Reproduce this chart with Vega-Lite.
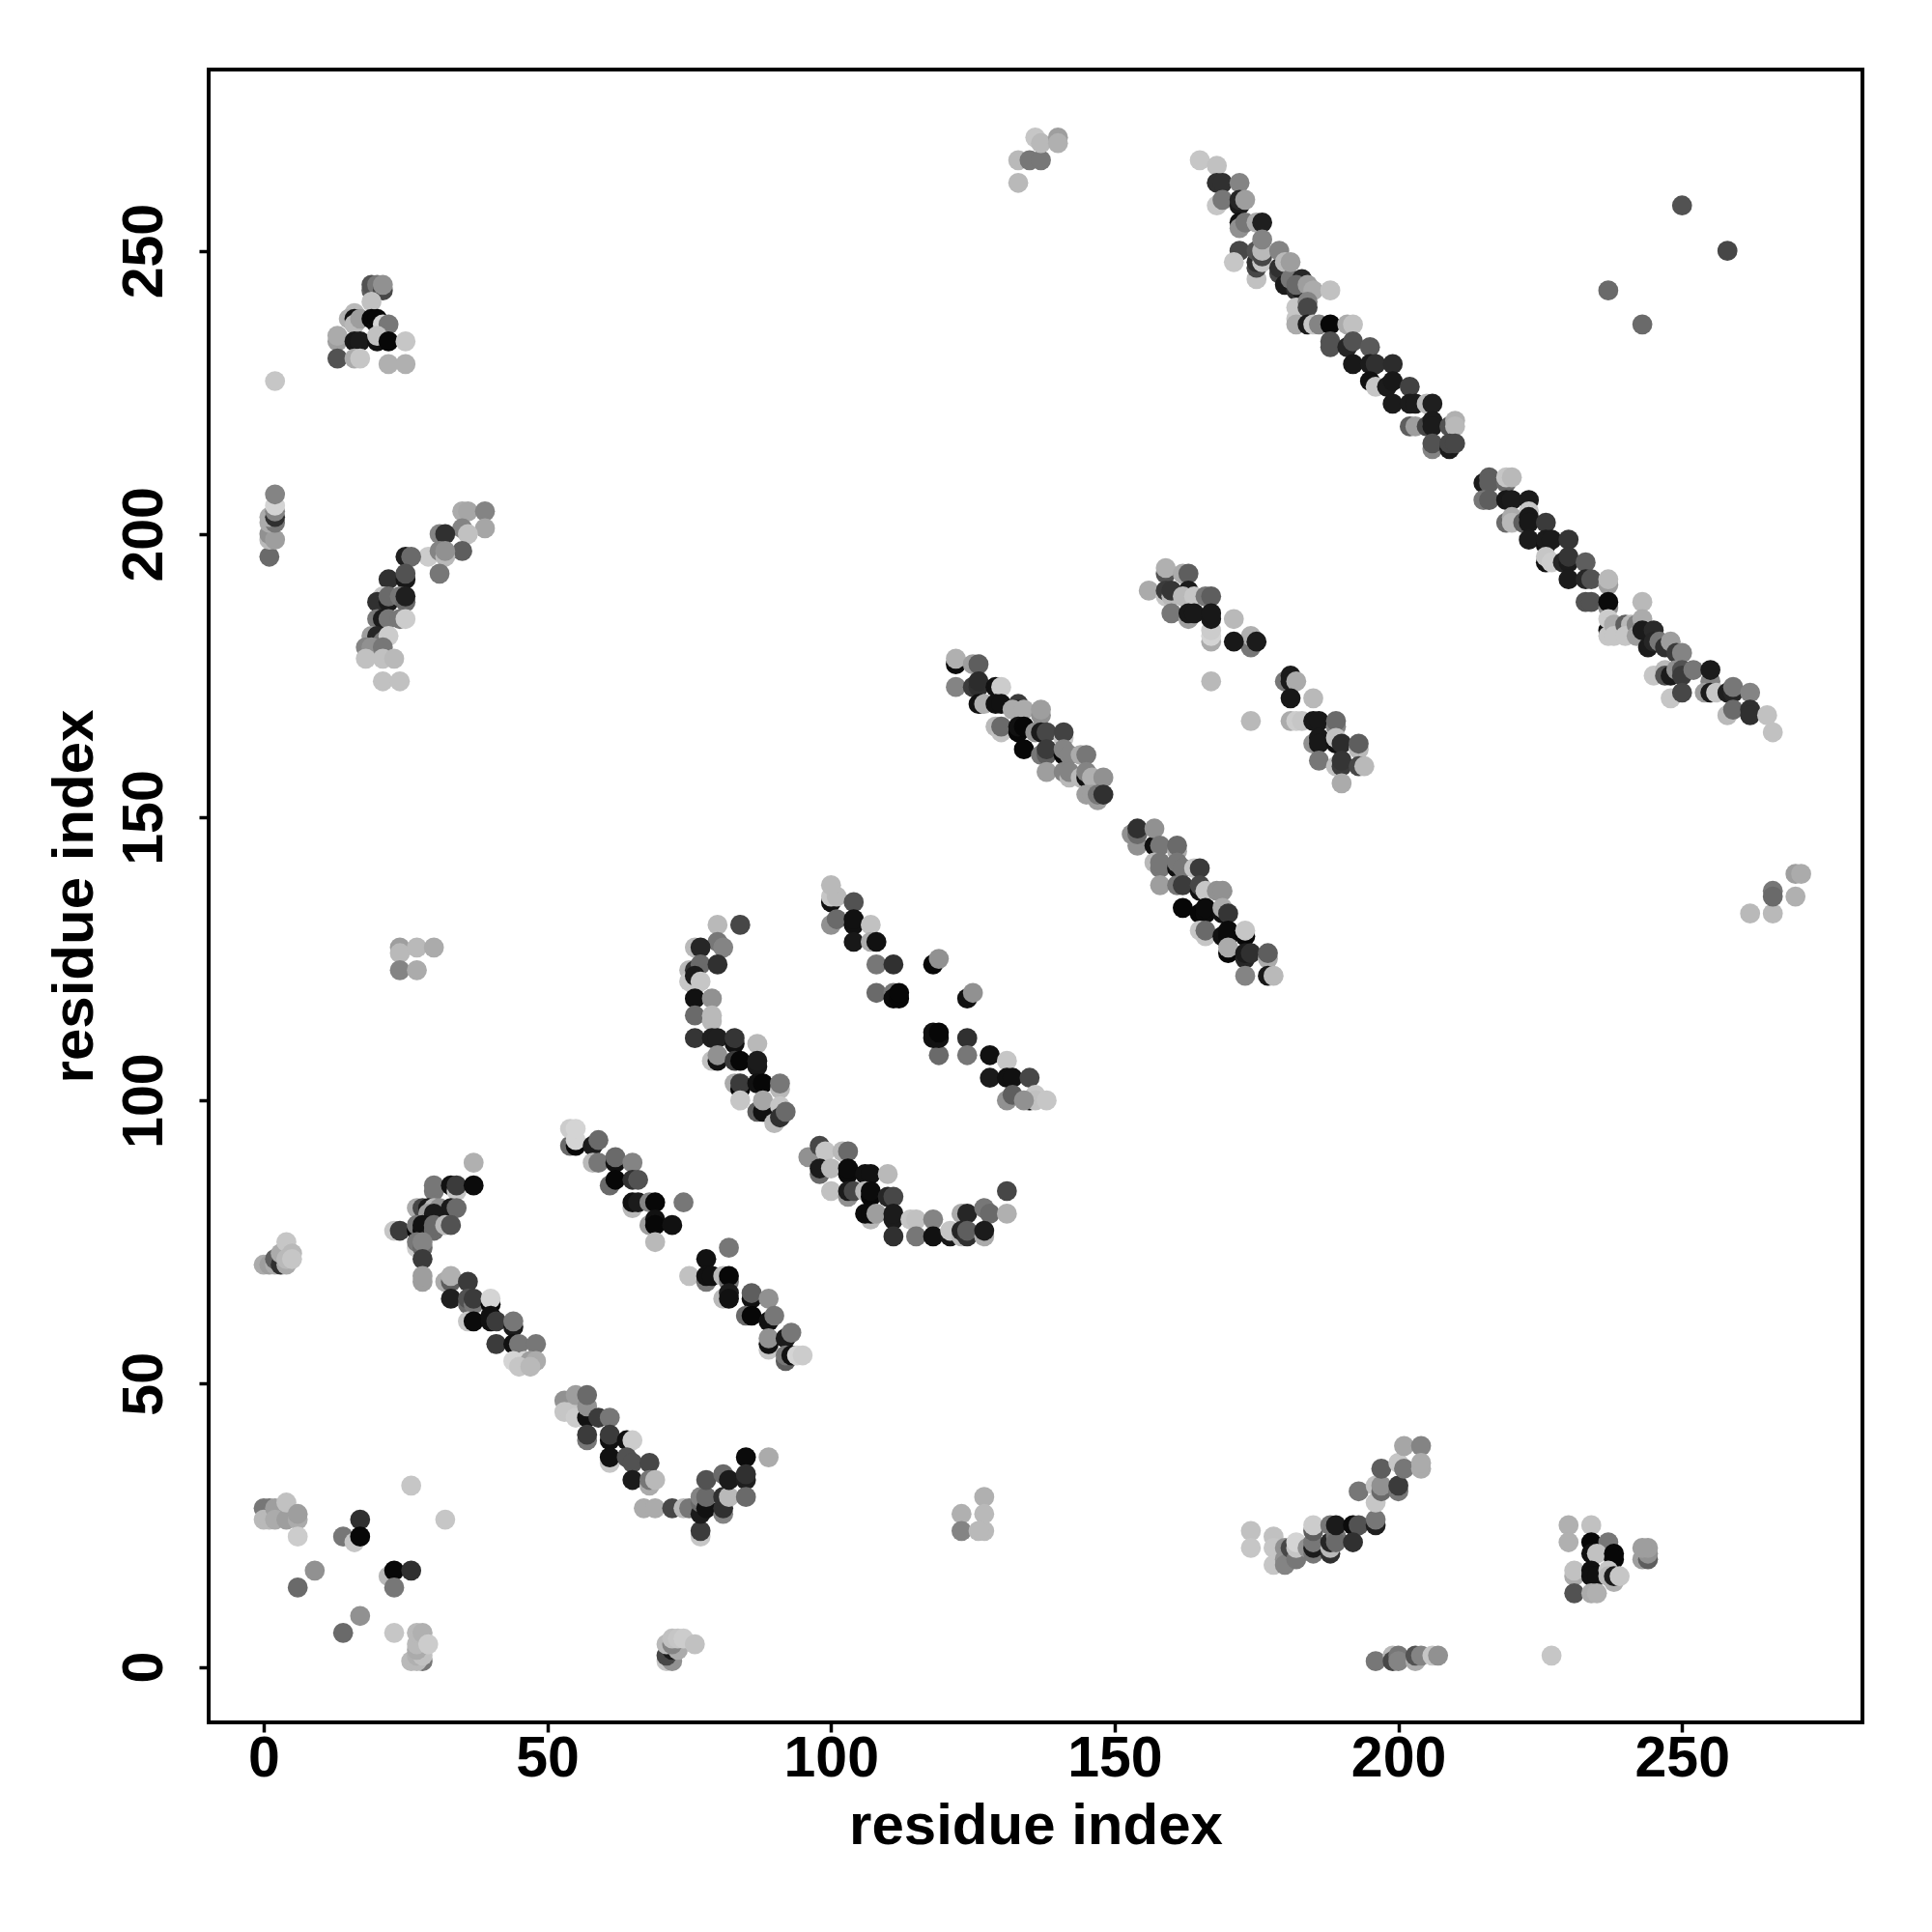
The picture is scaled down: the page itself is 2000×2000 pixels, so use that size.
{"$schema":"https://vega.github.io/schema/vega-lite/v6.json","width":1712,"height":1711,"autosize":{"type":"none"},"padding":{"left":216,"top":72,"right":72,"bottom":217},"background":"white","config":{"view":{"stroke":"#000000","strokeWidth":4,"fill":"white"},"font":"Liberation Sans"},"data":{"values":[
{"x":165,"y":266,"g":80},{"x":168,"y":265,"g":78},{"x":168,"y":262,"g":20},{"x":169,"y":262,"g":20},{"x":172,"y":262,"g":55},{"x":168,"y":258,"g":80},{"x":169,"y":259,"g":50},{"x":172,"y":258,"g":10},{"x":172,"y":259,"g":15},{"x":173,"y":259,"g":65},{"x":172,"y":255,"g":5},{"x":172,"y":254,"g":60},{"x":173,"y":255,"g":50},{"x":175,"y":255,"g":70},{"x":176,"y":255,"g":12},{"x":172,"y":250,"g":30},{"x":171,"y":248,"g":80},{"x":175,"y":245,"g":78},{"x":175,"y":247,"g":30},{"x":175,"y":248,"g":20},{"x":175,"y":250,"g":35},{"x":176,"y":248,"g":80},{"x":176,"y":249,"g":30},{"x":176,"y":250,"g":75},{"x":176,"y":252,"g":55},{"x":179,"y":246,"g":30},{"x":179,"y":247,"g":20},{"x":179,"y":250,"g":55},{"x":180,"y":244,"g":10},{"x":180,"y":248,"g":75},{"x":181,"y":245,"g":50},{"x":181,"y":248,"g":65},{"x":182,"y":243,"g":20},{"x":183,"y":243,"g":10},{"x":183,"y":245,"g":15},{"x":182,"y":244,"g":45},{"x":184,"y":244,"g":65},{"x":185,"y":243,"g":70},{"x":188,"y":243,"g":78},{"x":182,"y":240,"g":80},{"x":182,"y":238,"g":80},{"x":182,"y":237,"g":70},{"x":184,"y":241,"g":55},{"x":184,"y":240,"g":30},{"x":184,"y":237,"g":10},{"x":185,"y":237,"g":80},{"x":186,"y":237,"g":55},{"x":188,"y":237,"g":2},{"x":191,"y":237,"g":70},{"x":192,"y":237,"g":78},{"x":188,"y":234,"g":35},{"x":188,"y":233,"g":35},{"x":191,"y":233,"g":15},{"x":192,"y":234,"g":35},{"x":195,"y":233,"g":38},{"x":192,"y":230,"g":8},{"x":195,"y":230,"g":10},{"x":196,"y":230,"g":20},{"x":199,"y":230,"g":18},{"x":195,"y":227,"g":5},{"x":196,"y":226,"g":80},{"x":198,"y":226,"g":10},{"x":199,"y":227,"g":8},{"x":202,"y":226,"g":28},{"x":199,"y":223,"g":10},{"x":202,"y":223,"g":10},{"x":203,"y":223,"g":10},{"x":205,"y":223,"g":75},{"x":206,"y":223,"g":12},{"x":202,"y":219,"g":40},{"x":203,"y":219,"g":65},{"x":205,"y":219,"g":30},{"x":206,"y":220,"g":10},{"x":206,"y":219,"g":10},{"x":209,"y":219,"g":35},{"x":210,"y":220,"g":72},{"x":210,"y":219,"g":75},{"x":206,"y":215,"g":55},{"x":206,"y":216,"g":35},{"x":209,"y":215,"g":10},{"x":209,"y":216,"g":30},{"x":210,"y":216,"g":30},
{"x":215,"y":209,"g":10},{"x":216,"y":210,"g":40},{"x":216,"y":209,"g":40},{"x":219,"y":209,"g":45},{"x":219,"y":210,"g":80},{"x":220,"y":210,"g":75},{"x":215,"y":206,"g":50},{"x":216,"y":206,"g":40},{"x":219,"y":206,"g":8},{"x":220,"y":206,"g":10},{"x":223,"y":206,"g":10},{"x":223,"y":204,"g":80},{"x":219,"y":202,"g":45},{"x":220,"y":203,"g":70},{"x":220,"y":202,"g":75},{"x":222,"y":202,"g":40},{"x":223,"y":203,"g":8},{"x":223,"y":202,"g":8},{"x":226,"y":202,"g":25},{"x":223,"y":199,"g":10},{"x":226,"y":198,"g":5},{"x":226,"y":199,"g":10},{"x":227,"y":199,"g":10},{"x":230,"y":199,"g":22},{"x":226,"y":195,"g":5},{"x":226,"y":196,"g":80},{"x":227,"y":195,"g":82},{"x":229,"y":195,"g":15},{"x":230,"y":195,"g":10},{"x":230,"y":196,"g":22},{"x":233,"y":195,"g":40},{"x":230,"y":192,"g":10},{"x":233,"y":192,"g":15},{"x":234,"y":192,"g":35},{"x":237,"y":191,"g":65},{"x":237,"y":192,"g":75},{"x":233,"y":188,"g":35},{"x":234,"y":188,"g":35},{"x":237,"y":187,"g":60},{"x":237,"y":188,"g":3},{"x":237,"y":183,"g":5},{"x":237,"y":185,"g":82},{"x":237,"y":182,"g":80},{"x":238,"y":184,"g":70},{"x":238,"y":182,"g":80},{"x":240,"y":184,"g":40},{"x":241,"y":184,"g":75},{"x":240,"y":182,"g":80},{"x":243,"y":188,"g":75},{"x":242,"y":184,"g":55},{"x":243,"y":185,"g":70},{"x":242,"y":182,"g":65},{"x":243,"y":183,"g":10},{"x":245,"y":183,"g":17},{"x":244,"y":180,"g":10},{"x":245,"y":181,"g":15},{"x":246,"y":181,"g":50},{"x":247,"y":180,"g":20},{"x":248,"y":181,"g":65},{"x":249,"y":179,"g":25},{"x":250,"y":179,"g":55},{"x":245,"y":175,"g":80},{"x":247,"y":176,"g":75},{"x":247,"y":175,"g":35},{"x":248,"y":175,"g":10},{"x":249,"y":176,"g":60},{"x":250,"y":176,"g":35},{"x":250,"y":175,"g":25},{"x":252,"y":176,"g":50},{"x":255,"y":174,"g":55},{"x":255,"y":176,"g":10},{"x":248,"y":171,"g":80},{"x":250,"y":172,"g":30},{"x":254,"y":172,"g":65},{"x":255,"y":172,"g":10},{"x":256,"y":172,"g":80},{"x":258,"y":172,"g":12},{"x":259,"y":172,"g":15},{"x":259,"y":173,"g":50},{"x":262,"y":172,"g":55},{"x":258,"y":168,"g":75},{"x":259,"y":169,"g":45},{"x":262,"y":169,"g":20},{"x":262,"y":168,"g":20},{"x":265,"y":168,"g":78},{"x":266,"y":165,"g":78},
{"x":122,"y":177,"g":3},{"x":122,"y":178,"g":72},{"x":125,"y":177,"g":65},{"x":126,"y":177,"g":40},{"x":122,"y":173,"g":55},{"x":125,"y":173,"g":25},{"x":126,"y":173,"g":20},{"x":126,"y":174,"g":18},{"x":129,"y":173,"g":5},{"x":130,"y":173,"g":82},{"x":126,"y":170,"g":5},{"x":127,"y":170,"g":72},{"x":129,"y":170,"g":5},{"x":130,"y":170,"g":5},{"x":133,"y":170,"g":25},{"x":133,"y":169,"g":15},{"x":132,"y":169,"g":70},{"x":134,"y":169,"g":70},{"x":137,"y":168,"g":60},{"x":137,"y":169,"g":65},{"x":129,"y":166,"g":75},{"x":130,"y":165,"g":78},{"x":130,"y":166,"g":45},{"x":133,"y":165,"g":2},{"x":133,"y":166,"g":5},{"x":134,"y":166,"g":2},{"x":136,"y":165,"g":60},{"x":137,"y":165,"g":10},{"x":138,"y":165,"g":30},{"x":141,"y":164,"g":80},{"x":141,"y":165,"g":28},{"x":134,"y":162,"g":2},{"x":137,"y":161,"g":50},{"x":138,"y":161,"g":40},{"x":138,"y":162,"g":25},{"x":141,"y":161,"g":2},{"x":141,"y":162,"g":55},{"x":142,"y":161,"g":55},{"x":144,"y":161,"g":70},{"x":145,"y":161,"g":50},{"x":138,"y":158,"g":65},{"x":141,"y":158,"g":55},{"x":142,"y":157,"g":75},{"x":142,"y":158,"g":55},{"x":144,"y":157,"g":75},{"x":145,"y":157,"g":5},{"x":145,"y":158,"g":55},{"x":146,"y":157,"g":72},{"x":148,"y":157,"g":60},{"x":145,"y":154,"g":65},{"x":146,"y":154,"g":65},{"x":147,"y":153,"g":65},{"x":147,"y":154,"g":50},{"x":148,"y":154,"g":20},
{"x":153,"y":147,"g":60},{"x":154,"y":145,"g":60},{"x":154,"y":147,"g":45},{"x":154,"y":148,"g":20},{"x":157,"y":145,"g":5},{"x":157,"y":148,"g":60},{"x":158,"y":145,"g":50},{"x":161,"y":144,"g":70},{"x":161,"y":145,"g":45},{"x":157,"y":142,"g":75},{"x":158,"y":141,"g":50},{"x":158,"y":142,"g":50},{"x":161,"y":141,"g":5},{"x":161,"y":142,"g":50},{"x":162,"y":141,"g":50},{"x":164,"y":141,"g":80},{"x":165,"y":141,"g":25},{"x":158,"y":138,"g":65},{"x":161,"y":138,"g":50},{"x":162,"y":138,"g":25},{"x":165,"y":137,"g":5},{"x":165,"y":138,"g":30},{"x":166,"y":137,"g":80},{"x":168,"y":137,"g":60},{"x":169,"y":137,"g":60},{"x":162,"y":134,"g":2},{"x":165,"y":133,"g":2},{"x":166,"y":133,"g":3},{"x":166,"y":134,"g":3},{"x":169,"y":133,"g":5},{"x":169,"y":134,"g":70},{"x":170,"y":133,"g":22},{"x":165,"y":130,"g":80},{"x":166,"y":129,"g":80},{"x":166,"y":130,"g":45},{"x":169,"y":129,"g":5},{"x":170,"y":129,"g":3},{"x":170,"y":130,"g":3},{"x":173,"y":129,"g":2},{"x":173,"y":130,"g":80},{"x":170,"y":126,"g":2},{"x":170,"y":127,"g":70},{"x":173,"y":125,"g":15},{"x":173,"y":126,"g":10},{"x":174,"y":126,"g":20},{"x":177,"y":125,"g":70},{"x":177,"y":126,"g":40},{"x":173,"y":122,"g":55},{"x":177,"y":122,"g":8},{"x":178,"y":122,"g":75},
{"x":159,"y":193,"g":35},{"x":159,"y":194,"g":72},{"x":162,"y":193,"g":70},{"x":163,"y":193,"g":40},{"x":156,"y":190,"g":70},{"x":159,"y":189,"g":80},{"x":159,"y":190,"g":25},{"x":160,"y":189,"g":75},{"x":160,"y":190,"g":22},{"x":163,"y":190,"g":10},{"x":163,"y":189,"g":10},{"x":162,"y":189,"g":75},{"x":164,"y":189,"g":80},{"x":166,"y":189,"g":50},{"x":167,"y":189,"g":40},{"x":160,"y":186,"g":50},{"x":163,"y":185,"g":65},{"x":163,"y":186,"g":8},{"x":164,"y":186,"g":8},{"x":167,"y":181,"g":70},{"x":167,"y":182,"g":85},{"x":167,"y":183,"g":82},{"x":167,"y":185,"g":8},{"x":167,"y":186,"g":8},{"x":171,"y":185,"g":75},{"x":174,"y":180,"g":50},{"x":174,"y":182,"g":72},{"x":171,"y":181,"g":8},{"x":175,"y":181,"g":10},{"x":167,"y":174,"g":75},{"x":174,"y":167,"g":75},{"x":180,"y":174,"g":50},{"x":181,"y":175,"g":10},{"x":181,"y":174,"g":10},{"x":182,"y":174,"g":70},{"x":181,"y":171,"g":8},{"x":185,"y":171,"g":75},{"x":181,"y":167,"g":70},{"x":182,"y":167,"g":82},{"x":183,"y":167,"g":80},{"x":185,"y":167,"g":8},{"x":186,"y":167,"g":8},{"x":189,"y":166,"g":55},{"x":189,"y":167,"g":45},{"x":185,"y":163,"g":60},{"x":186,"y":164,"g":8},{"x":186,"y":163,"g":8},{"x":189,"y":163,"g":5},{"x":189,"y":164,"g":78},{"x":190,"y":163,"g":18},{"x":193,"y":162,"g":75},{"x":193,"y":163,"g":40},{"x":186,"y":160,"g":50},{"x":189,"y":159,"g":78},{"x":190,"y":159,"g":25},{"x":190,"y":160,"g":22},{"x":193,"y":159,"g":30},{"x":194,"y":159,"g":75},{"x":190,"y":156,"g":70},
{"x":80,"y":131,"g":75},{"x":84,"y":131,"g":30},{"x":80,"y":128,"g":50},{"x":81,"y":127,"g":55},{"x":76,"y":127,"g":75},{"x":77,"y":127,"g":15},{"x":75,"y":123,"g":75},{"x":76,"y":123,"g":20},{"x":77,"y":124,"g":45},{"x":80,"y":124,"g":20},{"x":75,"y":121,"g":80},{"x":76,"y":122,"g":10},{"x":77,"y":121,"g":80},{"x":76,"y":118,"g":5},{"x":79,"y":118,"g":60},{"x":76,"y":115,"g":45},{"x":79,"y":114,"g":75},{"x":79,"y":115,"g":75},{"x":76,"y":111,"g":22},{"x":79,"y":111,"g":12},{"x":80,"y":111,"g":12},{"x":83,"y":110,"g":5},{"x":83,"y":111,"g":22},{"x":87,"y":110,"g":75},{"x":79,"y":107,"g":78},{"x":80,"y":107,"g":5},{"x":80,"y":108,"g":60},{"x":83,"y":107,"g":25},{"x":84,"y":107,"g":2},{"x":87,"y":106,"g":8},{"x":87,"y":107,"g":10},{"x":83,"y":103,"g":70},{"x":84,"y":102,"g":2},{"x":84,"y":103,"g":25},{"x":87,"y":103,"g":5},{"x":88,"y":103,"g":2},{"x":91,"y":102,"g":75},{"x":91,"y":103,"g":50},{"x":84,"y":100,"g":80},{"x":87,"y":98,"g":40},{"x":88,"y":98,"g":5},{"x":88,"y":100,"g":68},{"x":91,"y":99,"g":80},{"x":90,"y":96,"g":75},{"x":91,"y":97,"g":20},{"x":92,"y":98,"g":45},
{"x":96,"y":90,"g":60},{"x":98,"y":92,"g":30},{"x":99,"y":91,"g":80},{"x":102,"y":91,"g":75},{"x":103,"y":91,"g":45},{"x":98,"y":87,"g":45},{"x":98,"y":88,"g":10},{"x":100,"y":88,"g":75},{"x":103,"y":87,"g":3},{"x":103,"y":88,"g":3},{"x":106,"y":87,"g":5},{"x":107,"y":87,"g":5},{"x":110,"y":87,"g":75},{"x":100,"y":84,"g":78},{"x":103,"y":83,"g":60},{"x":103,"y":84,"g":10},{"x":104,"y":84,"g":30},{"x":106,"y":84,"g":75},{"x":107,"y":83,"g":2},{"x":107,"y":84,"g":3},{"x":110,"y":83,"g":15},{"x":111,"y":83,"g":30},{"x":107,"y":79,"g":75},{"x":106,"y":80,"g":3},{"x":107,"y":80,"g":3},{"x":108,"y":80,"g":65},{"x":111,"y":79,"g":10},{"x":111,"y":80,"g":10},{"x":114,"y":79,"g":80},{"x":115,"y":79,"g":78},{"x":118,"y":79,"g":55},{"x":123,"y":80,"g":70},{"x":124,"y":80,"g":15},{"x":127,"y":81,"g":50},{"x":128,"y":80,"g":45},{"x":131,"y":80,"g":72},{"x":131,"y":84,"g":30},{"x":111,"y":76,"g":20},{"x":115,"y":76,"g":50},{"x":118,"y":76,"g":5},{"x":121,"y":76,"g":8},{"x":121,"y":77,"g":80},{"x":123,"y":76,"g":75},{"x":123,"y":77,"g":15},{"x":124,"y":76,"g":20},{"x":124,"y":77,"g":40},{"x":127,"y":76,"g":70},{"x":127,"y":77,"g":10},
{"x":100,"y":135,"g":5},{"x":100,"y":136,"g":80},{"x":101,"y":136,"g":75},{"x":100,"y":138,"g":75},{"x":104,"y":135,"g":35},{"x":100,"y":131,"g":60},{"x":101,"y":132,"g":45},{"x":104,"y":131,"g":5},{"x":104,"y":132,"g":5},{"x":107,"y":131,"g":78},{"x":104,"y":128,"g":8},{"x":107,"y":128,"g":70},{"x":108,"y":128,"g":5},{"x":108,"y":124,"g":50},{"x":111,"y":124,"g":20},{"x":118,"y":124,"g":2},{"x":119,"y":125,"g":60},{"x":108,"y":119,"g":45},{"x":111,"y":119,"g":50},{"x":111,"y":118,"g":3},{"x":112,"y":118,"g":2},{"x":112,"y":119,"g":2},{"x":124,"y":118,"g":5},{"x":125,"y":119,"g":60},{"x":119,"y":108,"g":45},{"x":118,"y":111,"g":5},{"x":118,"y":112,"g":5},{"x":119,"y":111,"g":5},{"x":119,"y":112,"g":2},{"x":124,"y":111,"g":20},{"x":124,"y":108,"g":50},{"x":128,"y":108,"g":5},{"x":131,"y":107,"g":80},{"x":128,"y":104,"g":10},{"x":131,"y":104,"g":5},{"x":132,"y":104,"g":5},{"x":135,"y":104,"g":30},{"x":131,"y":100,"g":60},{"x":132,"y":101,"g":40},{"x":135,"y":100,"g":5},{"x":136,"y":101,"g":80},{"x":136,"y":100,"g":78},{"x":134,"y":100,"g":60},{"x":138,"y":100,"g":80},
{"x":54,"y":92,"g":45},{"x":55,"y":92,"g":2},{"x":54,"y":95,"g":82},{"x":55,"y":93,"g":85},{"x":55,"y":95,"g":85},{"x":58,"y":92,"g":10},{"x":59,"y":93,"g":45},{"x":58,"y":89,"g":75},{"x":59,"y":89,"g":50},{"x":62,"y":89,"g":5},{"x":62,"y":90,"g":45},{"x":65,"y":89,"g":55},{"x":61,"y":85,"g":45},{"x":62,"y":86,"g":2},{"x":65,"y":86,"g":20},{"x":66,"y":86,"g":35},{"x":65,"y":81,"g":75},{"x":65,"y":82,"g":5},{"x":66,"y":82,"g":10},{"x":68,"y":82,"g":55},{"x":69,"y":82,"g":2},{"x":74,"y":82,"g":50},{"x":68,"y":78,"g":65},{"x":69,"y":79,"g":5},{"x":69,"y":78,"g":2},{"x":72,"y":78,"g":5},{"x":69,"y":75,"g":75},{"x":82,"y":74,"g":50},{"x":78,"y":72,"g":5},{"x":75,"y":69,"g":78},{"x":78,"y":68,"g":50},{"x":78,"y":69,"g":5},{"x":79,"y":69,"g":5},{"x":81,"y":69,"g":75},{"x":82,"y":68,"g":50},{"x":82,"y":69,"g":2},{"x":81,"y":65,"g":75},{"x":82,"y":66,"g":10},{"x":82,"y":65,"g":5},{"x":86,"y":65,"g":5},{"x":86,"y":66,"g":40},{"x":89,"y":65,"g":60},{"x":85,"y":62,"g":45},{"x":86,"y":62,"g":2},{"x":89,"y":61,"g":5},{"x":90,"y":62,"g":50},{"x":89,"y":56,"g":80},{"x":89,"y":57,"g":5},{"x":89,"y":58,"g":60},{"x":92,"y":58,"g":10},{"x":93,"y":59,"g":50},{"x":92,"y":54,"g":40},{"x":92,"y":55,"g":50},{"x":93,"y":55,"g":5},{"x":94,"y":55,"g":85},{"x":95,"y":55,"g":82},
{"x":37,"y":89,"g":72},{"x":30,"y":84,"g":50},{"x":30,"y":85,"g":50},{"x":33,"y":85,"g":5},{"x":34,"y":84,"g":80},{"x":34,"y":85,"g":25},{"x":37,"y":85,"g":3},{"x":27,"y":81,"g":70},{"x":28,"y":81,"g":30},{"x":29,"y":81,"g":10},{"x":30,"y":81,"g":75},{"x":31,"y":81,"g":60},{"x":33,"y":81,"g":10},{"x":34,"y":81,"g":45},{"x":29,"y":80,"g":65},{"x":30,"y":80,"g":10},{"x":23,"y":77,"g":80},{"x":24,"y":77,"g":25},{"x":27,"y":77,"g":2},{"x":27,"y":78,"g":50},{"x":28,"y":77,"g":3},{"x":28,"y":78,"g":5},{"x":30,"y":77,"g":45},{"x":30,"y":78,"g":45},{"x":32,"y":78,"g":75},{"x":33,"y":78,"g":35},{"x":27,"y":74,"g":82},{"x":27,"y":75,"g":50},{"x":28,"y":74,"g":45},{"x":28,"y":75,"g":55},{"x":28,"y":72,"g":25},{"x":28,"y":68,"g":65},{"x":28,"y":69,"g":65},{"x":32,"y":68,"g":70},{"x":33,"y":68,"g":40},{"x":33,"y":69,"g":72},{"x":36,"y":68,"g":25},{"x":33,"y":65,"g":12},{"x":36,"y":64,"g":45},{"x":36,"y":65,"g":35},{"x":37,"y":64,"g":50},{"x":37,"y":65,"g":25},{"x":40,"y":64,"g":2},{"x":40,"y":65,"g":85},{"x":36,"y":61,"g":80},{"x":37,"y":61,"g":3},{"x":40,"y":61,"g":5},{"x":40,"y":62,"g":5},{"x":41,"y":61,"g":25},{"x":44,"y":60,"g":10},{"x":44,"y":61,"g":50},{"x":41,"y":57,"g":25},{"x":44,"y":57,"g":5},{"x":45,"y":57,"g":50},{"x":48,"y":57,"g":50},{"x":44,"y":54,"g":85},{"x":46,"y":54,"g":85},{"x":47,"y":54,"g":65},{"x":48,"y":54,"g":70},{"x":45,"y":53,"g":80},{"x":47,"y":53,"g":75},
{"x":0,"y":71,"g":70},{"x":1,"y":71,"g":65},{"x":2,"y":71,"g":70},{"x":2,"y":72,"g":40},{"x":3,"y":71,"g":20},{"x":3,"y":73,"g":70},{"x":4,"y":71,"g":70},{"x":4,"y":75,"g":80},{"x":4,"y":72,"g":75},{"x":5,"y":73,"g":75},{"x":5,"y":72,"g":80},
{"x":53,"y":47,"g":60},{"x":53,"y":45,"g":80},{"x":54,"y":45,"g":80},{"x":55,"y":48,"g":65},{"x":55,"y":44,"g":82},{"x":57,"y":44,"g":5},{"x":57,"y":46,"g":60},{"x":57,"y":48,"g":45},{"x":59,"y":44,"g":25},{"x":61,"y":44,"g":50},{"x":57,"y":40,"g":50},{"x":57,"y":41,"g":25},{"x":61,"y":40,"g":5},{"x":61,"y":41,"g":25},{"x":64,"y":40,"g":5},{"x":65,"y":40,"g":82},{"x":61,"y":36,"g":80},{"x":61,"y":37,"g":5},{"x":64,"y":37,"g":35},{"x":65,"y":36,"g":35},{"x":68,"y":36,"g":30},{"x":65,"y":33,"g":10},{"x":68,"y":32,"g":70},{"x":68,"y":33,"g":50},{"x":69,"y":33,"g":75},{"x":67,"y":28,"g":70},{"x":69,"y":28,"g":70},{"x":72,"y":28,"g":30},{"x":74,"y":28,"g":75},{"x":75,"y":28,"g":50},{"x":77,"y":23,"g":80},{"x":77,"y":24,"g":25},{"x":77,"y":27,"g":10},{"x":77,"y":29,"g":45},{"x":77,"y":30,"g":55},{"x":78,"y":28,"g":5},{"x":78,"y":30,"g":45},{"x":78,"y":33,"g":35},{"x":81,"y":27,"g":55},{"x":81,"y":28,"g":20},{"x":81,"y":30,"g":20},{"x":81,"y":34,"g":45},{"x":82,"y":30,"g":75},{"x":82,"y":33,"g":10},{"x":85,"y":37,"g":3},{"x":85,"y":33,"g":12},{"x":85,"y":34,"g":20},{"x":85,"y":30,"g":45},{"x":89,"y":37,"g":70},
{"x":0,"y":28,"g":50},{"x":1,"y":28,"g":50},{"x":0,"y":26,"g":75},{"x":1,"y":26,"g":75},{"x":2,"y":28,"g":65},{"x":2,"y":26,"g":70},{"x":4,"y":26,"g":65},{"x":4,"y":29,"g":78},{"x":6,"y":26,"g":70},{"x":6,"y":27,"g":65},{"x":6,"y":23,"g":82},{"x":14,"y":23,"g":50},{"x":16,"y":22,"g":80},{"x":17,"y":26,"g":20},{"x":17,"y":23,"g":2},{"x":9,"y":17,"g":60},{"x":6,"y":14,"g":45},{"x":22,"y":16,"g":75},{"x":23,"y":17,"g":2},{"x":26,"y":17,"g":20},{"x":23,"y":14,"g":50},{"x":17,"y":9,"g":60},{"x":14,"y":6,"g":45},{"x":23,"y":6,"g":80},{"x":26,"y":32,"g":80},{"x":32,"y":26,"g":80},
{"x":28,"y":1,"g":50},{"x":26,"y":1,"g":75},{"x":27,"y":1,"g":75},{"x":27,"y":2,"g":72},{"x":28,"y":2,"g":78},{"x":27,"y":3,"g":70},{"x":27,"y":4,"g":75},{"x":27,"y":6,"g":75},{"x":28,"y":6,"g":72},{"x":29,"y":4,"g":82},{"x":71,"y":1,"g":80},{"x":72,"y":1,"g":60},{"x":71,"y":2,"g":30},{"x":72,"y":3,"g":10},{"x":73,"y":3,"g":70},{"x":71,"y":4,"g":75},{"x":72,"y":4,"g":55},{"x":72,"y":5,"g":78},{"x":73,"y":5,"g":80},{"x":74,"y":5,"g":82},{"x":76,"y":4,"g":78},
{"x":2,"y":227,"g":80},{"x":19,"y":243,"g":40},{"x":19,"y":244,"g":35},{"x":20,"y":244,"g":50},{"x":21,"y":243,"g":30},{"x":21,"y":244,"g":60},{"x":19,"y":241,"g":78},{"x":16,"y":239,"g":75},{"x":15,"y":238,"g":72},{"x":16,"y":238,"g":5},{"x":16,"y":237,"g":75},{"x":17,"y":238,"g":65},{"x":19,"y":238,"g":2},{"x":20,"y":237,"g":3},{"x":20,"y":238,"g":2},{"x":21,"y":237,"g":85},{"x":22,"y":237,"g":50},{"x":13,"y":234,"g":65},{"x":13,"y":235,"g":70},{"x":16,"y":234,"g":8},{"x":17,"y":234,"g":10},{"x":20,"y":234,"g":5},{"x":20,"y":235,"g":78},{"x":22,"y":234,"g":2},{"x":25,"y":234,"g":80},{"x":13,"y":231,"g":35},{"x":16,"y":231,"g":70},{"x":17,"y":231,"g":80},{"x":22,"y":230,"g":72},{"x":25,"y":230,"g":72},
{"x":1,"y":196,"g":45},{"x":1,"y":199,"g":75},{"x":1,"y":200,"g":60},{"x":2,"y":199,"g":65},{"x":1,"y":202,"g":70},{"x":2,"y":202,"g":50},{"x":1,"y":203,"g":70},{"x":2,"y":203,"g":20},{"x":2,"y":204,"g":55},{"x":2,"y":205,"g":85},{"x":2,"y":207,"g":55},
{"x":35,"y":204,"g":70},{"x":36,"y":204,"g":68},{"x":39,"y":204,"g":55},{"x":39,"y":201,"g":68},{"x":35,"y":201,"g":55},{"x":36,"y":200,"g":78},{"x":31,"y":200,"g":55},{"x":32,"y":200,"g":20},{"x":35,"y":197,"g":40},{"x":29,"y":196,"g":82},{"x":31,"y":197,"g":55},{"x":32,"y":196,"g":75},{"x":32,"y":197,"g":60},{"x":31,"y":193,"g":50},{"x":25,"y":196,"g":12},{"x":26,"y":196,"g":45},{"x":22,"y":192,"g":20},{"x":25,"y":192,"g":8},{"x":25,"y":193,"g":35},{"x":21,"y":189,"g":80},{"x":20,"y":188,"g":20},{"x":22,"y":188,"g":10},{"x":22,"y":189,"g":45},{"x":24,"y":189,"g":50},{"x":25,"y":188,"g":45},{"x":25,"y":189,"g":12},{"x":20,"y":185,"g":50},{"x":21,"y":185,"g":10},{"x":22,"y":185,"g":50},{"x":24,"y":185,"g":50},{"x":25,"y":185,"g":82},{"x":19,"y":182,"g":65},{"x":20,"y":182,"g":15},{"x":21,"y":181,"g":50},{"x":22,"y":182,"g":82},{"x":18,"y":180,"g":55},{"x":19,"y":180,"g":60},{"x":21,"y":180,"g":50},{"x":18,"y":178,"g":78},{"x":21,"y":178,"g":78},{"x":23,"y":178,"g":75},{"x":21,"y":174,"g":78},{"x":24,"y":174,"g":78},
{"x":174,"y":24,"g":78},{"x":174,"y":21,"g":80},{"x":178,"y":23,"g":78},{"x":178,"y":21,"g":80},{"x":178,"y":18,"g":80},{"x":180,"y":21,"g":60},{"x":180,"y":19,"g":60},{"x":180,"y":18,"g":55},{"x":181,"y":21,"g":30},{"x":182,"y":19,"g":50},{"x":182,"y":21,"g":80},{"x":182,"y":22,"g":85},{"x":184,"y":21,"g":60},{"x":185,"y":20,"g":50},{"x":185,"y":21,"g":10},{"x":185,"y":22,"g":50},{"x":185,"y":24,"g":40},{"x":185,"y":25,"g":82},{"x":188,"y":20,"g":20},{"x":188,"y":21,"g":75},{"x":188,"y":22,"g":15},{"x":188,"y":25,"g":50},{"x":189,"y":23,"g":50},{"x":189,"y":22,"g":45},{"x":189,"y":25,"g":10},{"x":192,"y":25,"g":3},{"x":193,"y":25,"g":35},{"x":192,"y":22,"g":20},{"x":196,"y":25,"g":12},{"x":196,"y":26,"g":50},{"x":193,"y":31,"g":50},{"x":196,"y":29,"g":80},{"x":196,"y":32,"g":78},{"x":197,"y":31,"g":45},{"x":197,"y":32,"g":60},{"x":200,"y":31,"g":50},{"x":200,"y":32,"g":25},{"x":197,"y":35,"g":40},{"x":200,"y":36,"g":80},{"x":201,"y":35,"g":50},{"x":201,"y":39,"g":68},{"x":204,"y":39,"g":55},{"x":204,"y":35,"g":70},{"x":204,"y":36,"g":70},
{"x":196,"y":1,"g":50},{"x":199,"y":2,"g":75},{"x":199,"y":1,"g":30},{"x":200,"y":2,"g":50},{"x":200,"y":1,"g":55},{"x":203,"y":1,"g":70},{"x":203,"y":2,"g":35},{"x":204,"y":2,"g":55},{"x":206,"y":2,"g":80},{"x":207,"y":2,"g":60},{"x":227,"y":2,"g":80},
{"x":230,"y":25,"g":72},{"x":230,"y":22,"g":72},{"x":231,"y":16,"g":70},{"x":231,"y":17,"g":78},{"x":231,"y":13,"g":35},{"x":234,"y":25,"g":78},{"x":234,"y":22,"g":2},{"x":237,"y":22,"g":50},{"x":234,"y":20,"g":5},{"x":235,"y":20,"g":78},{"x":238,"y":20,"g":2},{"x":238,"y":19,"g":2},{"x":234,"y":17,"g":5},{"x":234,"y":16,"g":5},{"x":235,"y":16,"g":5},{"x":234,"y":13,"g":70},{"x":235,"y":13,"g":72},{"x":237,"y":17,"g":80},{"x":237,"y":16,"g":75},{"x":238,"y":15,"g":72},{"x":238,"y":16,"g":10},{"x":239,"y":16,"g":80},{"x":243,"y":19,"g":65},{"x":244,"y":19,"g":40},{"x":244,"y":20,"g":60},{"x":244,"y":21,"g":65},{"x":243,"y":21,"g":65},
{"x":133,"y":262,"g":75},{"x":133,"y":266,"g":75},{"x":135,"y":266,"g":50},{"x":136,"y":270,"g":80},{"x":137,"y":266,"g":50},{"x":137,"y":269,"g":75},{"x":140,"y":270,"g":65},{"x":140,"y":269,"g":72},
{"x":250,"y":258,"g":35},{"x":258,"y":250,"g":30},{"x":237,"y":243,"g":45},{"x":243,"y":237,"g":45},{"x":262,"y":133,"g":75},{"x":266,"y":133,"g":75},{"x":266,"y":137,"g":50},{"x":266,"y":136,"g":45},{"x":270,"y":140,"g":65},{"x":270,"y":136,"g":72},{"x":271,"y":140,"g":70},
{"x":24,"y":127,"g":65},{"x":24,"y":126,"g":75},{"x":24,"y":123,"g":55},{"x":27,"y":123,"g":70},{"x":27,"y":127,"g":75},{"x":30,"y":127,"g":70},{"x":123,"y":27,"g":72},{"x":123,"y":24,"g":55},{"x":127,"y":30,"g":72},{"x":127,"y":27,"g":75},{"x":127,"y":24,"g":75},{"x":126,"y":24,"g":75}
]},"mark":{"type":"circle","size":430,"opacity":1},"encoding":{"x":{"field":"x","type":"quantitative","scale":{"domain":[-9.7,281.8],"nice":false,"zero":false},"axis":{"title":"residue index","values":[0,50,100,150,200,250],"grid":false,"domain":false,"ticks":true,"tickSize":10,"tickWidth":3.5,"tickColor":"#000000","labelFontSize":59,"labelFontWeight":"bold","labelFont":"Liberation Sans","labelColor":"#000000","labelPadding":-2,"titleFontSize":60,"titleFontWeight":"bold","titleFont":"Liberation Sans","titleColor":"#000000","titlePadding":11}},"y":{"field":"y","type":"quantitative","scale":{"domain":[-9.8,282],"nice":false,"zero":false},"axis":{"title":"residue index","values":[0,50,100,150,200,250],"grid":false,"domain":false,"ticks":true,"tickSize":10,"tickWidth":3.5,"tickColor":"#000000","labelFontSize":59,"labelFontWeight":"bold","labelFont":"Liberation Sans","labelColor":"#000000","labelAngle":-90,"labelAlign":"center","labelBaseline":"bottom","labelPadding":27,"titleFontSize":60,"titleFontWeight":"bold","titleFont":"Liberation Sans","titleColor":"#000000","titlePadding":12}},"color":{"field":"g","type":"quantitative","scale":{"domain":[0,100],"range":["#000000","#ffffff"]},"legend":null}}}
